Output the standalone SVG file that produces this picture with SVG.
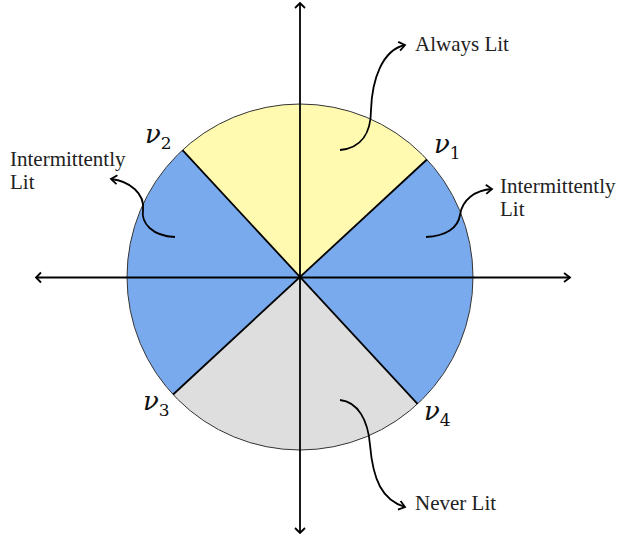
<svg xmlns="http://www.w3.org/2000/svg" width="619" height="540" viewBox="0 0 619 540">
<style>
.lbl{font-family:"Liberation Serif","Times New Roman",serif;font-size:21px;fill:#222}
.nu{font-family:"DejaVu Serif","Liberation Serif",serif;font-style:italic;font-size:26px;fill:#111}
.sub{font-family:"DejaVu Serif","Liberation Serif",serif;font-style:normal;font-size:17px}
.sec{stroke:none}
.ln{stroke:#000;stroke-width:1.8;fill:none}
.cl{stroke:#000;stroke-width:1.8;fill:none;marker-end:url(#arr)}
</style>
<defs>
<marker id="arr" markerWidth="12" markerHeight="12" refX="9" refY="6" orient="auto" markerUnits="userSpaceOnUse">
<path d="M3,1.5 L9,6 L3,10.5" fill="none" stroke="#000" stroke-width="1.8"/>
</marker>
</defs>
<g id="disc">
<g id="always-lit-sector"><path class="sec" fill="#FFFAB0" d="M300,277 L182.5,150.1 A173,173 0 0 1 426.9,159.5 Z"/></g>
<g id="right-sector"><path class="sec" fill="#7AAAEE" d="M300,277 L426.9,159.5 A173,173 0 0 1 417.5,403.9 Z"/></g>
<g id="never-lit-sector"><path class="sec" fill="#DEDEDE" d="M300,277 L417.5,403.9 A173,173 0 0 1 173.1,394.5 Z"/></g>
<g id="left-sector"><path class="sec" fill="#7AAAEE" d="M300,277 L173.1,394.5 A173,173 0 0 1 182.5,150.1 Z"/></g>
<circle cx="300" cy="277" r="173" fill="none" stroke="#333" stroke-width="1"/>
<line class="ln" x1="182.5" y1="150.1" x2="417.5" y2="403.9"/>
<line class="ln" x1="426.9" y1="159.5" x2="173.1" y2="394.5"/>
</g>
<g id="connectors">
<line class="cl" x1="37" y1="277.5" x2="570" y2="277.5"/>
<line class="ln" x1="300" y1="3" x2="300" y2="533"/>
<path class="ln" d="M41,272.5 L36,277.5 L41,282.5"/>
<path class="ln" d="M295,8 L300,3 L305,8"/>
<path class="ln" d="M295,528 L300,533 L305,528"/>
<path class="cl" d="M340,150 C362,148 371,132 371,110 C372,80 382,50 405,45"/>
<path class="cl" d="M175,237 C152,236 141,223 143,210 C145,194 130,181 111,179"/>
<path class="cl" d="M426,237 C446,236 458,228 460,215 C462,200 475,190 492,189"/>
<path class="cl" d="M340,400 C358,402 368,420 370,445 C373,480 382,500 405,507"/>
</g>
<g id="label-always"><text class="lbl" x="415" y="51">Always Lit</text></g>
<g id="label-left"><text class="lbl" x="10" y="166">Intermittently</text><text class="lbl" x="10" y="189">Lit</text></g>
<g id="label-right"><text class="lbl" x="500" y="193">Intermittently</text><text class="lbl" x="500" y="216">Lit</text></g>
<g id="label-never"><text class="lbl" x="415" y="510">Never Lit</text></g>
<g id="v1"><text class="nu" x="434" y="153">ν<tspan class="sub" dy="6">1</tspan></text></g>
<g id="v2"><text class="nu" x="145" y="143">ν<tspan class="sub" dy="6">2</tspan></text></g>
<g id="v3"><text class="nu" x="143" y="410">ν<tspan class="sub" dy="6">3</tspan></text></g>
<g id="v4"><text class="nu" x="424" y="420">ν<tspan class="sub" dy="6">4</tspan></text></g>
</svg>
